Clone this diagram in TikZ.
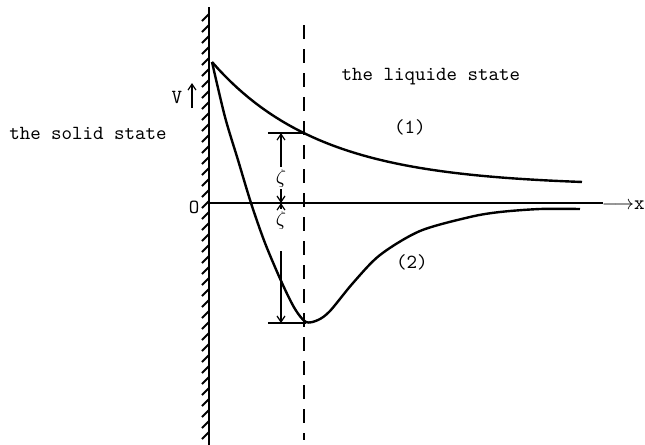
\documentclass[tikz,border=0pt]{standalone}
\usetikzlibrary{arrows.meta}

\begin{document}
\begin{tikzpicture}[x=0.5pt,y=-0.5pt,font=\ttfamily,
    >={Straight Barb[length=3pt,width=4pt]}]
        \useasboundingbox (0,0) rectangle (645,445);
        % wall with hatching
        \draw[line width=1pt] (209,7) -- (209,445);
        \foreach \y in {14,25,...,440}
            \draw[line width=0.9pt] (209,\y) -- ++(-7,7);
        % axis
        \coordinate (O) at (209,203);
        \coordinate (axend) at (603,203);
        \draw[line width=1pt] (O) -- (axend);
        \node[anchor=east, inner sep=0pt] (xlab) at (645,205) {$\longrightarrow$x};
        \node (olab) at (194,207) {O};
        \node (vlab) at (177,97) {V};
        \draw[->, line width=0.6pt] (192,108) -- (192,83);
        % dashed line
        \draw[line width=1.2pt, dash pattern=on 7pt off 5pt] (304,25) -- (304,440);
        % curves
        \draw[line width=1.2pt] plot[domain=212:582, samples=60] (\x,{186-124*exp(-(\x-212)/108)});
        \draw[line width=1.2pt] plot[smooth, tension=0.5] coordinates {(212,62) (225,117) (238,160) (251,203) (265,243) (282,283) (295,309) (306,322) (318,320) (330,311) (353,283) (380,255) (420,231) (470,217) (500,212) (540,209) (580,209)};
        \node (c1) at (410,127) {(1)};
        \node (c2) at (412,262) {(2)};
        \node (liq) at (431,77) {the liquide state};
        \node (sol) at (88,133) {the solid state};
        % zeta marks
        \coordinate (t1) at (281,133);
        \coordinate (t2) at (281,203);
        \coordinate (t3) at (281,323);
        \draw[line width=0.6pt] (268,133) -- (304,133);
        \draw[line width=0.6pt] (268,323) -- (306,323);
        \node[inner sep=1pt] (z1) at (281,178) {$\zeta$};
        \node[inner sep=1pt] (z2) at (281,220) {$\zeta$};
        \draw[->, line width=0.6pt] (z1.north) -- (t1);
        \draw[->, line width=0.6pt] (z1.south) -- (t2);
        \draw[->, line width=0.6pt] (z2.north) -- (t2);
        \draw[->, line width=0.6pt] ([yshift=-10pt]z2.south) -- (t3);
    \end{tikzpicture}
\end{document}
